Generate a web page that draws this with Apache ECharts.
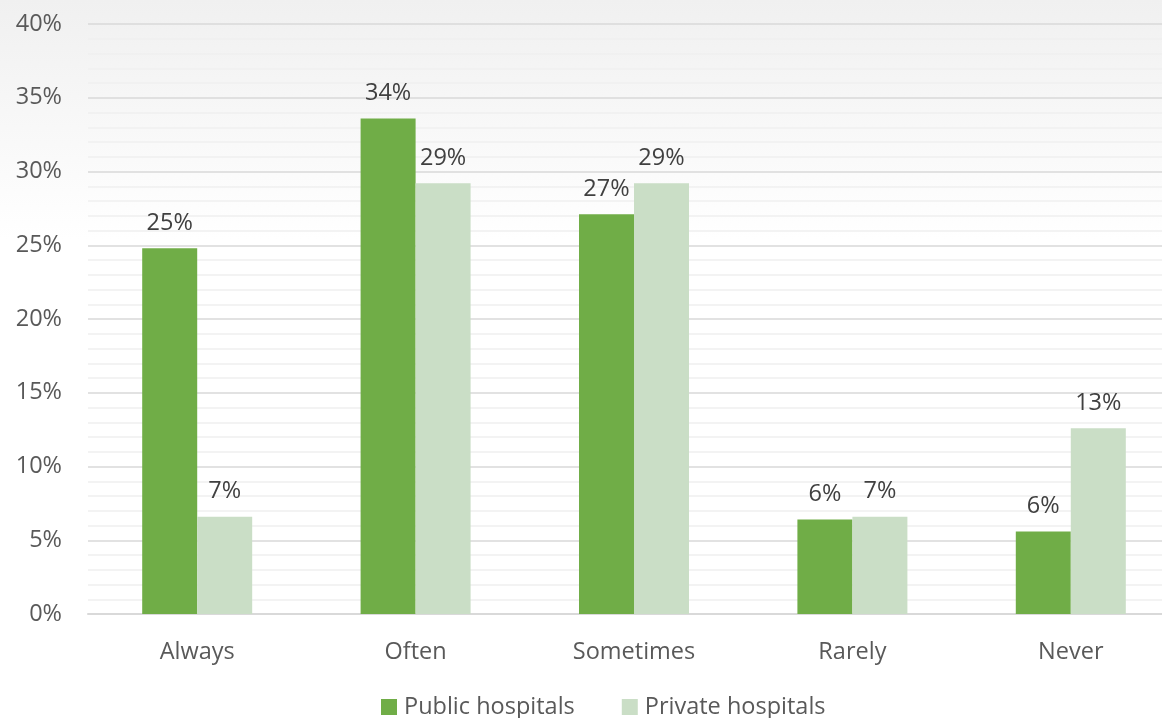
<!DOCTYPE html>
<html>
<head>
<meta charset="utf-8">
<script src="https://cdn.jsdelivr.net/npm/echarts@6/dist/echarts.min.js"></script>
<style>
  html, body { margin: 0; padding: 0; }
  #chart {
    width: 1162px; height: 718px;
    background: linear-gradient(to bottom, #f0f0f0 0px, #ffffff 240px, #ffffff 718px);
  }
</style>
</head>
<body>
<div id="chart"></div>
<script>
// Frequency categories
const categories = ['Always', 'Often', 'Sometimes', 'Rarely', 'Never'];
// Share of respondents (%)
const publicHospitals = [24.8, 33.6, 27.1, 6.4, 5.6];
const privateHospitals = [6.6, 29.2, 29.2, 6.6, 12.6];
const yTicks = [0, 5, 10, 15, 20, 25, 30, 35, 40];

const FONT = '"Open Sans", "Noto Sans", sans-serif';
const FS = 23.5;

const chart = echarts.init(document.getElementById('chart'), null, { renderer: 'canvas' });

const labelStyle = {
  show: true,
  position: 'top',
  distance: 13,
  color: '#404040',
  fontSize: FS,
  fontFamily: FONT,
  formatter: p => Math.round(p.value) + '%'
};

chart.setOption({
  backgroundColor: 'transparent',
  animation: false,
  // plot area runs past the right edge of the canvas
  grid: {
    left: 88, width: 1092, top: 24, height: 590,
    containLabel: false, outerBoundsMode: 'none'
  },
  legend: {
    top: 690,
    left: 376,
    itemWidth: 16,
    itemHeight: 16,
    itemGap: 47,
    icon: 'rect',
    textStyle: { color: '#595959', fontSize: FS, fontFamily: FONT, padding: [0, 0, 0, 2] },
    data: ['Public hospitals', 'Private hospitals']
  },
  xAxis: {
    type: 'category',
    data: categories,
    axisLine: { lineStyle: { color: '#d9d9d9', width: 2 } },
    axisTick: { show: false },
    axisLabel: { color: '#595959', fontSize: FS, fontFamily: FONT, margin: 26 }
  },
  yAxis: {
    type: 'value',
    min: yTicks[0],
    max: yTicks[yTicks.length - 1],
    interval: 5,
    axisLine: { show: false },
    axisTick: { show: false },
    axisLabel: {
      color: '#595959', fontSize: FS, fontFamily: FONT, margin: 26,
      formatter: v => v + '%'
    },
    splitLine: { lineStyle: { color: '#d9d9d9', width: 1.5 } },
    minorTick: { show: false, splitNumber: 5 },
    minorSplitLine: { show: true, lineStyle: { color: '#efefef', width: 1.5 } }
  },
  series: [
    {
      name: 'Public hospitals',
      type: 'bar',
      data: publicHospitals,
      barWidth: 55,
      barGap: '0%',
      itemStyle: { color: '#70ad47' },
      label: labelStyle
    },
    {
      name: 'Private hospitals',
      type: 'bar',
      data: privateHospitals,
      barWidth: 55,
      barGap: '0%',
      itemStyle: { color: '#cadec6' },
      label: labelStyle
    }
  ]
});
</script>
</body>
</html>
